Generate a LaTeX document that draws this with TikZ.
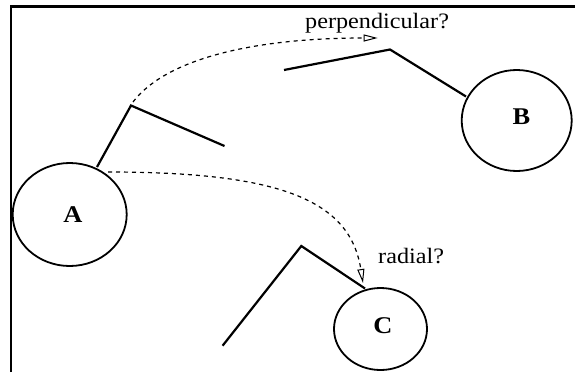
\documentclass[tikz,border=0pt]{standalone}
\usepackage{fontspec}
\setmainfont{Liberation Serif}
\usetikzlibrary{shapes.geometric,arrows.meta}
\begin{document}
\begin{tikzpicture}[x=1pt,y=-1pt,
  blob/.style={draw, ellipse, line width=1.8pt, inner sep=0pt},
  letter/.style={font=\fontsize{24}{24}\selectfont\bfseries, inner sep=0pt},
  stick/.style={line width=2.2pt, line join=miter},
  guess/.style={line width=1.2pt, dash pattern=on 4pt off 4pt,
    -{Triangle[open,length=14pt,width=7pt,line width=1pt]}},
  caption/.style={font=\fontsize{22}{22}\selectfont, inner sep=0pt, anchor=base west},
  frameline/.style={line width=2.2pt}]
\useasboundingbox (0,0) rectangle (575,372);
% frame (open on right and bottom)
\coordinate (f0) at (11,372);
\coordinate (f1) at (11,6.5);
\coordinate (f2) at (575,6.5);
\draw[frameline] (f0) -- (f1) -- (f2);
% circles
\node[blob, minimum width=114pt, minimum height=103pt] (A) at (69.7,214.5) {};
\node[blob, minimum width=110pt, minimum height=101pt] (B) at (516.7,120.5) {};
\node[blob, minimum width=93pt, minimum height=82pt] (C) at (380.5,329) {};
\node[letter] (Al) at (73,214.5) {\scalebox{1.1}[1]{A}};
\node[letter] (Bl) at (521.5,116.5) {\scalebox{1.1}[1]{B}};
\node[letter] (Cl) at (383,326) {\scalebox{1.1}[1]{C}};
% sticks
\coordinate (a0) at (97,167);
\coordinate (a1) at (131,105.5);
\coordinate (a2) at (224.5,146);
\coordinate (b0) at (284,70);
\coordinate (b1) at (390,49.5);
\coordinate (b2) at (466,96.5);
\coordinate (c0) at (222.6,345.7);
\coordinate (c1) at (301.3,246);
\coordinate (c2) at (365,288.5);
\draw[stick] (a0) -- (a1) -- (a2);
\draw[stick] (b0) -- (b1) -- (b2);
\draw[stick] (c0) -- (c1) -- (c2);
% dashed arrows
\coordinate (s1) at (133,102);
\coordinate (t1) at (377.7,38);
\coordinate (s2) at (108,172);
\coordinate (t2) at (363,283);
\draw[guess] (s1) .. controls (165,60) and (250,38) .. (t1);
\draw[guess] (s2) .. controls (280,172) and (350,200) .. (t2);
% labels
\node[caption] (perp) at (305,28.5) {\scalebox{1.1}[1]{perpendicular?}};
\node[caption] (rad) at (378,263) {\scalebox{1.1}[1]{radial?}};
\end{tikzpicture}
\end{document}
